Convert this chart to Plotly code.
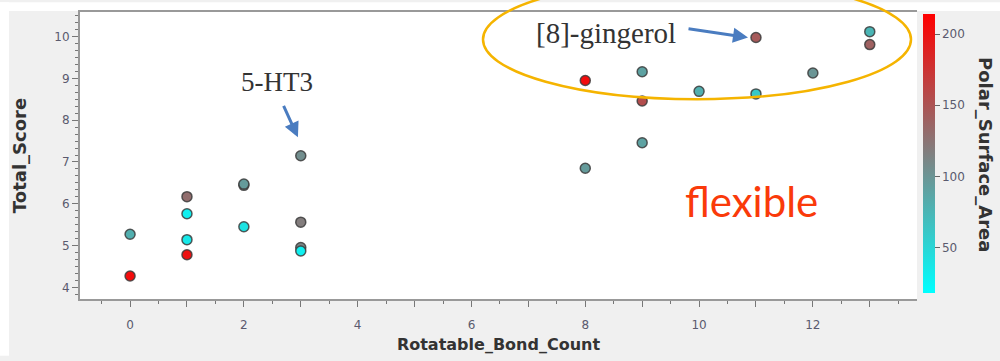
import plotly.graph_objects as go

# ---- data ----
rotatable_bond_count = [0, 0, 1, 1, 1, 1, 2, 2, 2, 3, 3, 3, 3, 8, 8, 9, 9, 9, 10, 11, 11, 12, 13, 13]
total_score = [5.27, 4.27, 6.17, 5.76, 5.14, 4.78, 6.44, 6.47, 5.45, 7.15, 5.56, 4.95, 4.87,
               8.95, 6.85, 9.16, 8.46, 7.46, 8.69, 9.98, 8.63, 9.13, 10.12, 9.81]
polar_surface_area = [80, 205, 130, 30, 35, 200, 112, 95, 40, 105, 118, 112, 30,
                      205, 95, 90, 155, 90, 80, 145, 60, 100, 75, 140]
x_tick_vals = list(range(0, 14))
x_tick_text = [str(v) if v % 2 == 0 else "" for v in x_tick_vals]
y_tick_vals = [4, 5, 6, 7, 8, 9, 10]
cb_tick_vals = [50, 100, 150, 200]

W, H = 1000, 361
L, R, T, B = 80, 83, 10, 58
pw, ph = W - L - R, H - T - B


def px(x):
    return (x - L) / pw


def py(y):
    return (H - B - y) / ph


colorscale = [[0.0, "rgb(0,255,255)"], [0.5, "rgb(128,128,128)"], [1.0, "rgb(255,0,0)"]]

fig = go.Figure()
fig.add_trace(go.Scatter(
    x=rotatable_bond_count, y=total_score, mode="markers",
    marker=dict(size=10, color=polar_surface_area, colorscale=colorscale,
                cmin=18, cmax=214,
                line=dict(width=1.5, color="rgba(60,60,60,0.85)"),
                colorbar=dict(x=px(923), xanchor="left", thickness=12, xpad=0, ypad=0,
                              y=py(297), yanchor="bottom", len=(297 - 12) / ph,
                              outlinewidth=0, ticks="outside", ticklen=5,
                              tickcolor="#666", tickvals=cb_tick_vals,
                              tickfont=dict(family="DejaVu Sans", size=12, color="#5a5a6e"))),
    showlegend=False, hoverinfo="x+y"))

axis_common = dict(showgrid=False, zeroline=False, showline=True, linecolor="#999",
                   linewidth=2, ticks="outside", tickcolor="#777", ticklen=6,
                   tickfont=dict(family="DejaVu Sans", size=12, color="#5a5a6e"))

fig.update_xaxes(range=[-0.88, 13.83], tickvals=x_tick_vals, ticktext=x_tick_text,
                 mirror=True, ticklabelstandoff=8,
                 minor=dict(dtick=0.5, ticks="outside", ticklen=3, tickcolor="#777"),
                 title=dict(text="<b>Rotatable_Bond_Count</b>", standoff=7,
                            font=dict(family="DejaVu Sans", size=16, color="#333")),
                 **axis_common)
fig.update_yaxes(range=[3.72, 10.59], tickvals=y_tick_vals,
                 minor=dict(dtick=1 / 6, ticks="outside", ticklen=3, tickcolor="#777"),
                 title=dict(text="<b>Total_Score</b>", standoff=23,
                            font=dict(family="DejaVu Sans", size=18, color="#333")),
                 **axis_common)

shapes = [
    # white strips along top and left edges
    dict(type="rect", xref="paper", yref="paper", x0=px(0), x1=px(W), y0=py(9), y1=py(0),
         fillcolor="white", line=dict(width=0), layer="below"),
    dict(type="rect", xref="paper", yref="paper", x0=px(0), x1=px(9), y0=py(H), y1=py(0),
         fillcolor="white", line=dict(width=0), layer="below"),
    # orange ellipse
    dict(type="circle", xref="paper", yref="paper", x0=px(483), x1=px(911), y0=py(99), y1=py(-23),
         line=dict(color="#f5b400", width=2.5), fillcolor="rgba(0,0,0,0)"),
]

annotations = [
    dict(text="5-HT3", xref="paper", yref="paper", x=px(277), y=py(81), showarrow=False,
         xanchor="center", yanchor="middle",
         font=dict(family="Liberation Serif", size=27, color="#333")),
    dict(text="[8]-gingerol", xref="paper", yref="paper", x=px(606), y=py(31), showarrow=False,
         xanchor="center", yanchor="middle",
         font=dict(family="Liberation Serif", size=29, color="#333")),
    dict(text="flexible", xref="paper", yref="paper", x=px(751), y=py(203), showarrow=False,
         xanchor="center", yanchor="middle",
         font=dict(family="Lato", size=42, color="#fa3a0a")),
    dict(text="<b>Polar_Surface_Area</b>", xref="paper", yref="paper", x=px(986), y=py(155),
         showarrow=False, textangle=90, xanchor="center", yanchor="middle",
         font=dict(family="DejaVu Sans", size=18, color="#333")),
    # arrows
    dict(text="", xref="x", yref="y", x=2.95, y=7.59, ax=-15, ay=-33, showarrow=True,
         arrowhead=2, arrowsize=1, arrowwidth=3, arrowcolor="#4a7cc0"),
    dict(text="", xref="x", yref="y", x=10.86, y=9.98, ax=-61, ay=-9, showarrow=True,
         arrowhead=2, arrowsize=1, arrowwidth=3, arrowcolor="#4a7cc0"),
]

fig.update_layout(width=W, height=H, margin=dict(l=L, r=R, t=T, b=B, pad=0),
                  paper_bgcolor="#f0f0f0", plot_bgcolor="white",
                  shapes=shapes, annotations=annotations)

fig.write_html("out.html")
